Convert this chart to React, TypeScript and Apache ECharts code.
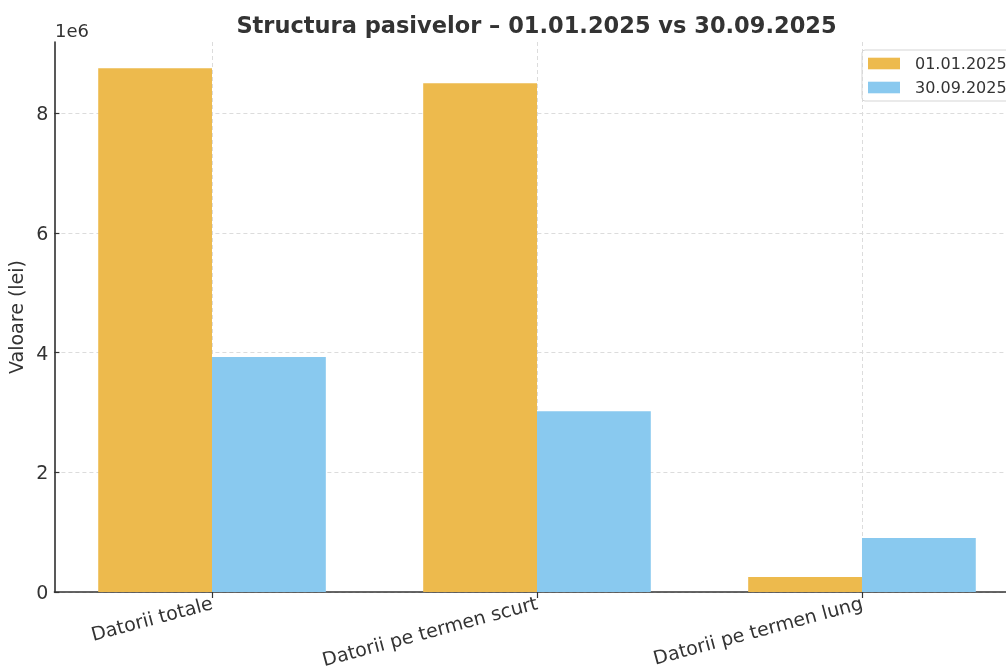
import React, { useEffect, useRef } from "react";
import * as echarts from "echarts";

const categories = ["Datorii totale", "Datorii pe termen scurt", "Datorii pe termen lung"];
const seriesNames = ["01.01.2025", "30.09.2025"];
const values2025Jan = [8750000, 8500000, 250000];
const values2025Sep = [3925000, 3020000, 900000];
const yTicks = [0, 2000000, 4000000, 6000000, 8000000];
const xTicks = [0, 1, 2];
const colors = ["#EDBA4D", "#89C9EF"];

export default function App() {
  const ref = useRef<HTMLDivElement>(null);
  useEffect(() => {
    if (!ref.current) return;
    const chart = echarts.init(ref.current, null, { renderer: "svg" });
    const font = "DejaVu Sans";
    const mk = (name: string, vals: number[], color: string) => ({
      name,
      type: "bar",
      barWidth: 113.8,
      barGap: "0%",
      itemStyle: { color },
      data: vals.map((v, i) => [xTicks[i], v]),
    });
    chart.setOption({
      animation: false,
      textStyle: { fontFamily: font },
      title: {
        text: "Structura pasivelor – 01.01.2025 vs 30.09.2025",
        left: 531.5,
        textAlign: "center",
        top: 8,
        textStyle: { fontFamily: font, fontSize: 22.5, fontWeight: "bold", color: "#333" },
      },
      legend: {
        data: seriesNames,
        orient: "vertical",
        left: 862,
        top: 50,
        itemWidth: 32,
        itemHeight: 11.6,
        itemGap: 8,
        padding: [5.5, 10, 5.5, 6],
        borderColor: "#d5d5d5",
        borderWidth: 1,
        borderRadius: 3,
        icon: "rect",
        textStyle: { fontFamily: font, fontSize: 16, lineHeight: 16, color: "#333", padding: [0, 0, 0, 10] },
      },
      grid: {
        left: 54.4,
        top: 42,
        width: 965.2,
        height: 550,
        containLabel: false,
        outerBoundsMode: "none",
      },
      graphic: [
        {
          type: "text",
          left: 55,
          top: 21,
          style: { text: "1e6", fontFamily: font, fontSize: 18, fill: "#333" },
        },
      ],
      xAxis: {
        type: "value",
        min: -0.485,
        max: 2.485,
        axisLine: { show: true, onZero: false, lineStyle: { color: "#333", width: 1.5 } },
        axisTick: { show: true, length: 6, customValues: xTicks, lineStyle: { color: "#333", width: 1.2 } },
        axisLabel: {
          customValues: xTicks,
          rotate: 15,
          margin: 10,
          fontFamily: font,
          fontSize: 19,
          color: "#333",
          formatter: (v: number) => categories[Math.round(v)] ?? "",
        },
        splitLine: { show: true, lineStyle: { type: [4, 3], color: "#dcdcdc", width: 1 } },
      },
      yAxis: {
        type: "value",
        min: 0,
        max: 9187500,
        name: "Valoare (lei)",
        nameLocation: "middle",
        nameGap: 28,
        nameTextStyle: { fontFamily: font, fontSize: 19, color: "#333" },
        axisLine: { show: true, onZero: false, lineStyle: { color: "#222", width: 1.5 } },
        axisTick: { show: true, inside: true, length: 5, customValues: yTicks, lineStyle: { color: "#333", width: 1.2 } },
        axisLabel: {
          customValues: yTicks,
          margin: 6,
          fontFamily: font,
          fontSize: 19,
          color: "#333",
          formatter: (v: number) => String(Math.round(v / 1e6)),
        },
        splitLine: { show: true, lineStyle: { type: [4, 3], color: "#dcdcdc", width: 1 } },
      },
      series: [
        mk(seriesNames[0], values2025Jan, colors[0]),
        mk(seriesNames[1], values2025Sep, colors[1]),
      ],
    });
    return () => chart.dispose();
  }, []);
  return (
    <div style={{ position: "fixed", left: 0, top: 0, width: 1006, height: 671, overflow: "hidden" }}>
      <div ref={ref} style={{ width: 1040, height: 671 }} />
    </div>
  );
}
